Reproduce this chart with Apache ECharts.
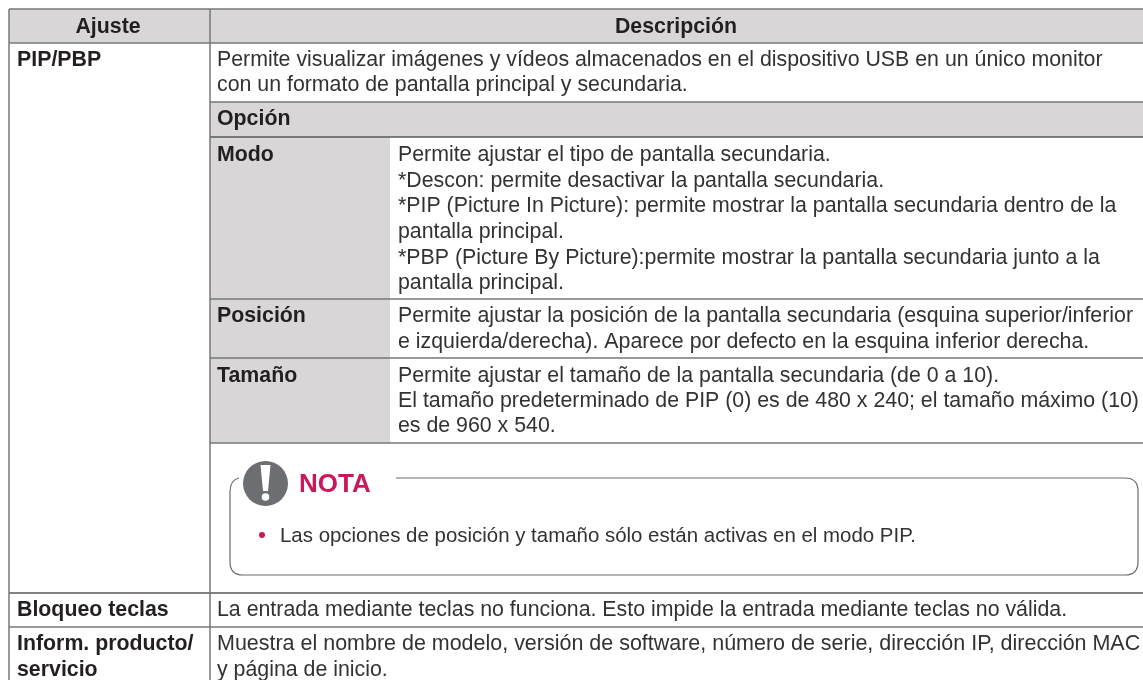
<!DOCTYPE html>
<html>
<head>
<meta charset="utf-8">
<style>
  html, body { margin: 0; padding: 0; background: #fff; }
  #chart { width: 1143px; height: 680px; }
</style>
<script src="https://cdn.jsdelivr.net/npm/echarts@6/dist/echarts.min.js"></script>
</head>
<body>
<div id="chart"></div>
<script>
const headers = ['Ajuste', 'Descripción'];
const settingNames = ['PIP/PBP', 'Bloqueo teclas', 'Inform. producto/', 'servicio'];
const pipIntro = [
  'Permite visualizar imágenes y vídeos almacenados en el dispositivo USB en un único monitor',
  'con un formato de pantalla principal y secundaria.'
];
const optionTitle = 'Opción';
const optionNames = ['Modo', 'Posición', 'Tamaño'];
const modoLines = [
  'Permite ajustar el tipo de pantalla secundaria.',
  '*Descon: permite desactivar la pantalla secundaria.',
  '*PIP (Picture In Picture): permite mostrar la pantalla secundaria dentro de la',
  'pantalla principal.',
  '*PBP (Picture By Picture):permite mostrar la pantalla secundaria junto a la',
  'pantalla principal.'
];
const posicionLines = [
  'Permite ajustar la posición de la pantalla secundaria (esquina superior/inferior',
  'e izquierda/derecha). Aparece por defecto en la esquina inferior derecha.'
];
const tamanoLines = [
  'Permite ajustar el tamaño de la pantalla secundaria (de 0 a 10).',
  'El tamaño predeterminado de PIP (0) es de 480 x 240; el tamaño máximo (10)',
  'es de 960 x 540.'
];
const noteTitle = 'NOTA';
const noteText = 'Las opciones de posición y tamaño sólo están activas en el modo PIP.';
const bloqueoText = 'La entrada mediante teclas no funciona. Esto impide la entrada mediante teclas no válida.';
const informLines = [
  'Muestra el nombre de modelo, versión de software, número de serie, dirección IP, dirección MAC',
  'y página de inicio.'
];

const FONT = '"Liberation Sans", Arial, sans-serif';
const GREY = '#d8d6d7';
const LINE = '#777778';
const DARK_LINE = '#58585a';
const TEXT = '#333132';
const BOLD = '#231f20';
const PINK = '#c9185b';

const chart = echarts.init(document.getElementById('chart'));

// grey fills: [x0, y0, x1, y1]
const fills = [
  [9, 9, 1143, 43],
  [210, 102, 1143, 137],
  [210, 137, 390, 443]
];
// rules: [x0, y0, x1, y1, dark]
const rules = [
  [9, 9, 1143, 9, 0],
  [9, 43, 1143, 43, 0],
  [210, 102, 1143, 102, 0],
  [210, 137, 1143, 137, 1],
  [210, 299, 1143, 299, 0],
  [210, 358, 1143, 358, 0],
  [210, 443, 1143, 443, 0],
  [9, 593, 1143, 593, 1],
  [9, 627, 1143, 627, 0],
  [9, 9, 9, 680, 0],
  [210, 9, 210, 680, 0]
];

function label(text, x, y, bold, align, size) {
  return {
    type: 'text',
    z: 100,
    style: {
      text, x, y: y + 1,
      font: (bold ? 'bold ' : '') + (size || 21.33) + 'px ' + FONT,
      fill: bold ? BOLD : TEXT,
      textAlign: align || 'left',
      textVerticalAlign: 'middle'
    }
  };
}

function block(lines, x, ys) {
  return lines.map((t, i) => label(t, x, ys[i], false));
}

const textEls = [
  label(headers[0], 108, 26, true, 'center'),
  label(headers[1], 676, 26, true, 'center'),
  label(settingNames[0], 17, 59, true),
  label(settingNames[1], 17, 609, true),
  label(settingNames[2], 17, 643, true),
  label(settingNames[3], 17, 669, true),
  label(optionTitle, 217, 118, true),
  label(optionNames[0], 217, 154, true),
  label(optionNames[1], 217, 315, true),
  label(optionNames[2], 217, 375, true),
  ...block(pipIntro, 217, [59, 84]),
  ...block(modoLines, 398, [154, 180, 205, 231, 257, 282]),
  ...block(posicionLines, 398, [315, 341]),
  ...block(tamanoLines, 398, [375, 400, 425]),
  label(noteText, 280, 535, false, 'left', 20.44),
  label(bloqueoText, 217, 609, false),
  label(informLines[0], 217, 643, false, 'left', 21.47),
  label(informLines[1], 217, 669, false)
];

const noteEls = [
  { type: 'circle', z: 100, shape: { cx: 265.5, cy: 483.5, r: 22.5 }, style: { fill: '#6d6e71' } },
  { type: 'polygon', z: 101, shape: { points: [[260.5, 465], [270.5, 465], [268, 491], [263, 491]] }, style: { fill: '#fff' } },
  { type: 'circle', z: 101, shape: { cx: 265.5, cy: 497, r: 3.8 }, style: { fill: '#fff' } },
  {
    type: 'text',
    z: 100,
    style: {
      text: noteTitle, x: 299, y: 485,
      font: 'bold 26px ' + FONT,
      fill: PINK, textVerticalAlign: 'middle'
    }
  },
  { type: 'circle', z: 100, shape: { cx: 262, cy: 535, r: 3 }, style: { fill: PINK } }
];

chart.setOption({
  animation: false,
  backgroundColor: '#fff',
  grid: { left: 0, right: 0, top: 0, bottom: 0 },
  xAxis: { type: 'value', min: 0, max: 1143, show: false },
  yAxis: { type: 'value', min: 0, max: 680, inverse: true, show: false },
  series: [
    {
      type: 'custom',
      silent: true,
      z: 1,
      data: fills,
      renderItem(params, api) {
        const a = api.coord([api.value(0), api.value(1)]);
        const b = api.coord([api.value(2), api.value(3)]);
        return { type: 'rect', shape: { x: a[0], y: a[1], width: b[0] - a[0], height: b[1] - a[1] }, style: { fill: GREY } };
      }
    },
    {
      type: 'custom',
      silent: true,
      z: 2,
      data: rules,
      renderItem(params, api) {
        const a = api.coord([api.value(0), api.value(1)]);
        const b = api.coord([api.value(2), api.value(3)]);
        const stroke = api.value(4) ? DARK_LINE : LINE;
        return { type: 'line', shape: { x1: a[0], y1: a[1], x2: b[0], y2: b[1] }, style: { stroke, lineWidth: 1.5 } };
      }
    },
    {
      type: 'custom',
      silent: true,
      z: 2,
      data: [[230, 478, 1138, 575]],
      renderItem() {
        // note frame, open at the top left where the icon and title sit
        return {
          type: 'path',
          shape: {
            pathData: 'M396 478 L1125 478 Q1138 478 1138 491 L1138 562 Q1138 575 1125 575 ' +
              'L243 575 Q230 575 230 562 L230 492 Q230 480 239 478',
            x: 230, y: 478, width: 908, height: 97
          },
          style: { fill: 'none', stroke: '#6a6a6b', lineWidth: 1.2 }
        };
      }
    }
  ],
  graphic: [...noteEls, ...textEls]
});
</script>
</body>
</html>
